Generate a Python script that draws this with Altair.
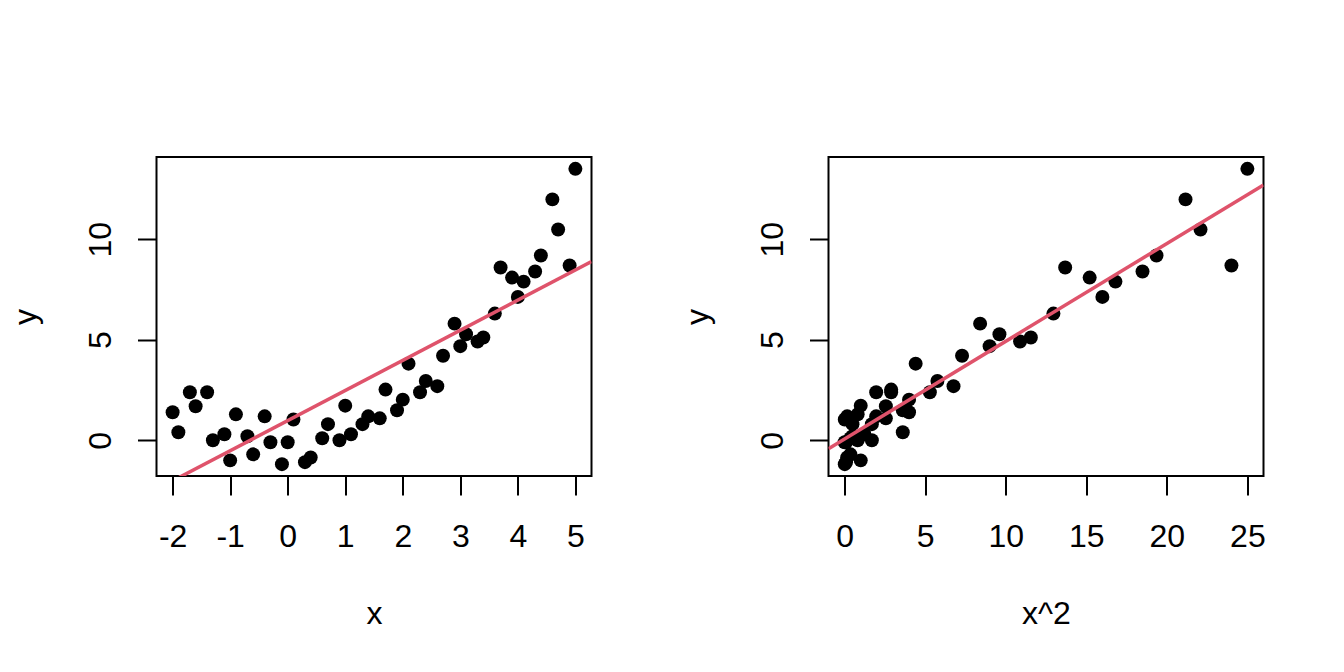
import altair as alt
import pandas as pd

x_vals = [-2.0, -1.9, -1.7, -1.6, -1.4, -1.3, -1.1, -1.0, -0.9, -0.7,
          -0.6, -0.4, -0.3, -0.1, 0.0, 0.1, 0.3, 0.4, 0.6, 0.7,
          0.9, 1.0, 1.1, 1.3, 1.4, 1.6, 1.7, 1.9, 2.0, 2.1,
          2.3, 2.4, 2.6, 2.7, 2.9, 3.0, 3.1, 3.3, 3.4, 3.6,
          3.7, 3.9, 4.0, 4.1, 4.3, 4.4, 4.6, 4.7, 4.9, 5.0]
y_vals = [1.39, 0.40, 2.39, 1.69, 2.39, 0.00, 0.30, -1.00, 1.29, 0.20,
          -0.70, 1.19, -0.10, -1.19, -0.10, 1.03, -1.09, -0.86, 0.10, 0.80,
          0.00, 1.72, 0.30, 0.80, 1.19, 1.09, 2.52, 1.49, 2.02, 3.81,
          2.39, 2.95, 2.69, 4.20, 5.80, 4.68, 5.27, 4.91, 5.11, 6.30,
          8.59, 8.09, 7.13, 7.89, 8.39, 9.19, 11.98, 10.48, 8.69, 13.50]

left_ticks = [-2, -1, 0, 1, 2, 3, 4, 5]
right_ticks = [0, 5, 10, 15, 20, 25]
y_ticks = [0, 5, 10]

df = pd.DataFrame({"x": x_vals, "y": y_vals})

FONT = "Liberation Sans"
RED = "#DF536B"
W, H = 435, 319
FS = 32


def pad_range(lo, hi):
    d = (hi - lo) * 0.04
    return [lo - d, hi + d]


ydom = pad_range(min(y_vals), max(y_vals))
xdom_left = pad_range(min(x_vals), max(x_vals))
x2 = [v * v for v in x_vals]
xdom_right = pad_range(min(x2), max(x2))


def make_panel(xfield, xtitle, xdom, xticks):
    xs = alt.Scale(domain=xdom, nice=False, zero=False)
    ys = alt.Scale(domain=ydom, nice=False, zero=False)
    xaxis = alt.Axis(values=xticks, title=xtitle, grid=False, domain=False,
                     labelExpr="'' + datum.value",
                     tickSize=19, tickWidth=2, tickColor="black",
                     labelFontSize=FS, labelFont=FONT, labelColor="black",
                     labelBaseline="alphabetic", labelPadding=51,
                     labelFlush=False, labelOverlap=False,
                     titleFontSize=FS, titleFont=FONT, titleFontWeight="normal",
                     titleColor="black", titleBaseline="alphabetic",
                     titleAlign="center", titleX=W / 2, titleY=147)
    yaxis = alt.Axis(values=y_ticks, title="y", grid=False, domain=False,
                     labelExpr="'' + datum.value",
                     tickSize=19, tickWidth=2, tickColor="black",
                     labelFontSize=FS, labelFont=FONT, labelColor="black",
                     labelAngle=270, labelAlign="center",
                     labelBaseline="alphabetic", labelPadding=27,
                     labelFlush=False, labelOverlap=False,
                     titleFontSize=FS, titleFont=FONT, titleFontWeight="normal",
                     titleColor="black", titleAngle=270,
                     titleBaseline="alphabetic", titleAlign="center",
                     titleX=-121.5, titleY=H / 2)
    base = alt.Chart(df).transform_calculate(x2="datum.x * datum.x")
    pts = base.mark_circle(size=195, color="black", opacity=1).encode(
        x=alt.X(f"{xfield}:Q", scale=xs, axis=xaxis),
        y=alt.Y("y:Q", scale=ys, axis=yaxis),
    )
    line = base.transform_regression(xfield, "y", extent=xdom).mark_line(
        color=RED, strokeWidth=3.5, clip=True
    ).encode(
        x=alt.X(f"{xfield}:Q", scale=xs),
        y=alt.Y("y:Q", scale=ys),
    )
    return alt.layer(pts, line).properties(width=W, height=H)


left = make_panel("x", "x", xdom_left, left_ticks)
right = make_panel("x2", "x^2", xdom_right, right_ticks)

chart = alt.hconcat(left, right, spacing=237, bounds="flush").properties(
    autosize=alt.AutoSizeParams(type="none"),
    padding={"left": 148.5, "top": 149, "right": 1150, "bottom": 490},
    background="white",
).configure_view(stroke="black", strokeWidth=2)

chart.save("out.html", embed_options={"renderer": "svg", "actions": False})
